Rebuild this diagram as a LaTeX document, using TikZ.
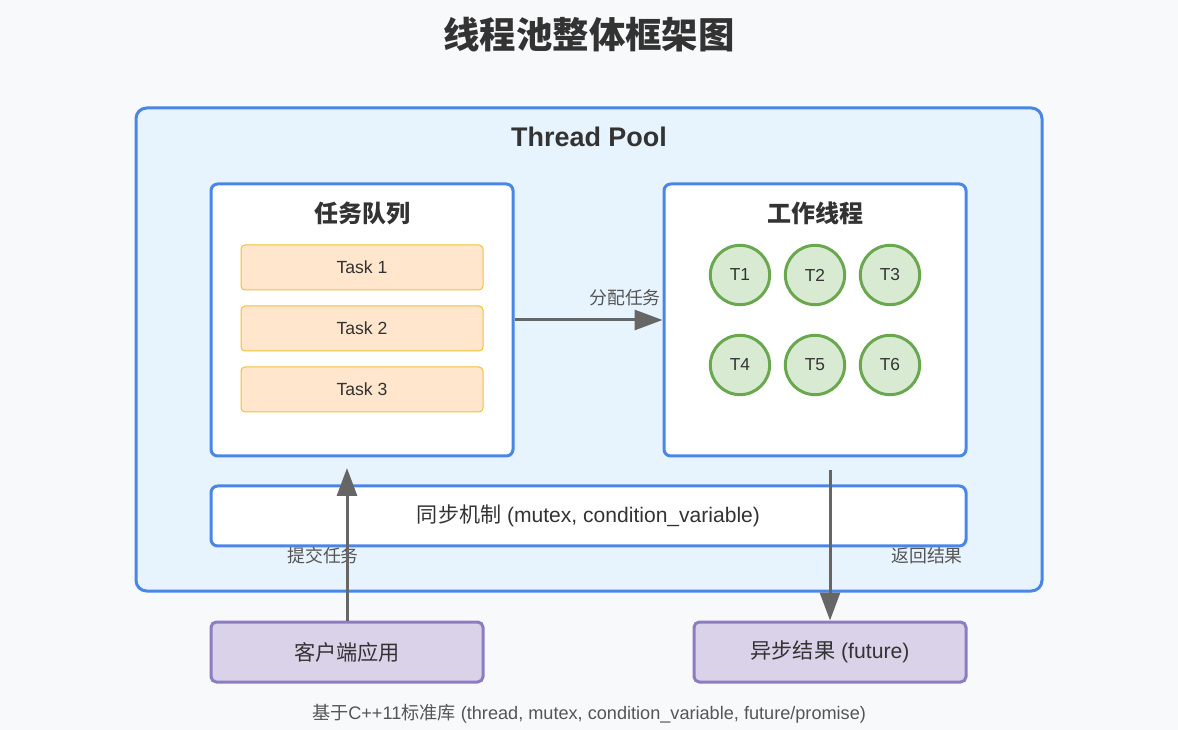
\documentclass[tikz,border=0pt]{standalone}
\usepackage{fontspec}
\setmainfont{Liberation Sans}
\newfontfamily\cjk{Noto Sans CJK SC}
\usepackage{tikz}
\usetikzlibrary{positioning}
\usetikzlibrary{arrows.meta}
\usepackage{xcolor}

\definecolor{pagebg}{HTML}{F8F9FA}
\definecolor{poolfill}{HTML}{E8F4FD}
\definecolor{poolline}{HTML}{4A86E8}
\definecolor{taskfill}{HTML}{FFE6CC}
\definecolor{taskline}{HTML}{F1C232}
\definecolor{thrfill}{HTML}{D9EAD3}
\definecolor{thrline}{HTML}{6AA84F}
\definecolor{appfill}{HTML}{D9D2E9}
\definecolor{appline}{HTML}{8E7CC3}
\definecolor{ink}{HTML}{333333}
\definecolor{arrowgray}{HTML}{666666}
\definecolor{labelgray}{HTML}{555555}

\tikzset{
    panel/.style={draw=poolline, line width=2.25pt, fill=white, rounded corners=5pt, inner sep=0pt},
    heading/.style={text=ink, font=\fontsize{18}{21}\selectfont\bfseries\cjk},
    taskbox/.style={draw=taskline, line width=0.75pt, fill=taskfill, rounded corners=3pt,
        minimum width=181.5pt, minimum height=33.75pt, inner sep=0pt, font=\fontsize{13.2}{15}\selectfont, text=ink},
    worker/.style={draw=thrline, line width=2.25pt, fill=thrfill, circle, minimum size=44.5pt,
        inner sep=0pt, font=\fontsize{13}{15}\selectfont, text=ink},
    appbox/.style={draw=appline, line width=2.25pt, fill=appfill, rounded corners=4pt,
        minimum width=204pt, minimum height=45pt, inner sep=0pt, font=\fontsize{15.9}{18}\selectfont, text=ink},
    flow/.style={draw=arrowgray, line width=2.25pt, -{Triangle[length=21pt, width=15pt]}},
    note/.style={text=labelgray, font=\fontsize{13.4}{16}\selectfont\cjk}
}

\begin{document}
\begin{tikzpicture}[x=0.75pt, y=-0.75pt]
    \fill[pagebg] (0,0) rectangle (1178,730);
    \useasboundingbox (0,0) rectangle (1178,730);

    % title
    \node[text=ink, font=\fontsize{27.3}{32}\selectfont\bfseries\cjk] (title) at (589,35) {线程池整体框架图};

    % pool
    \node[panel, fill=poolfill, rounded corners=8pt, minimum width=679.5pt, minimum height=362.25pt] (pool) at (589,349.5) {};
    \node[text=ink, font=\fontsize{20.2}{24}\selectfont\bfseries] (pooltitle) at (589,137) {Thread Pool};

    % task queue
    \node[panel, minimum width=226.5pt, minimum height=204pt] (queue) at (362,320) {};
    \node[heading] (queuetitle) at (362,213) {任务队列};
    \node[taskbox] (task1) at (362,267.5) {Task 1};
    \node[taskbox, below=11.25pt of task1] (task2) {Task 2};
    \node[taskbox, below=11.25pt of task2] (task3) {Task 3};

    % workers
    \node[panel, minimum width=226.5pt, minimum height=204pt] (workers) at (815,320) {};
    \node[heading] (workerstitle) at (815,213) {工作线程};
    \node[worker] (t1) at (740,275) {T1};
    \node[worker] (t2) at (815,275) {T2};
    \node[worker] (t3) at (890,275) {T3};
    \node[worker] (t4) at (740,365) {T4};
    \node[worker] (t5) at (815,365) {T5};
    \node[worker] (t6) at (890,365) {T6};

    % sync
    \node[panel, minimum width=566.25pt, minimum height=45pt, text=ink,
        font=\fontsize{15.8}{18}\selectfont] (sync) at (588.5,516) {{\cjk 同步机制} (mutex, condition\_variable)};

    % outside
    \node[appbox] (client) at (347,652) {\cjk 客户端应用};
    \node[appbox] (future) at (830,652) {{\cjk 异步结果} (future)};

    % labels
    \node[note] (dispatch) at (625,298) {分配任务};
    \node[note] (submit) at (323,556) {提交任务};
    \node[note] (result) at (927,556) {返回结果};

    % arrows
    \coordinate (submitend) at (347,468);
    \coordinate (resultstart) at (830,470);
    \draw[flow] (queue.east) -- (workers.west);
    \draw[flow] (client.north) -- (submitend);
    \draw[flow] (resultstart) -- (future.north);

    \node[text=labelgray, font=\fontsize{13.6}{16}\selectfont] (footer) at (589,714)
        {{\cjk 基于}C++11{\cjk 标准库} (thread, mutex, condition\_variable, future/promise)};
\end{tikzpicture}
\end{document}
